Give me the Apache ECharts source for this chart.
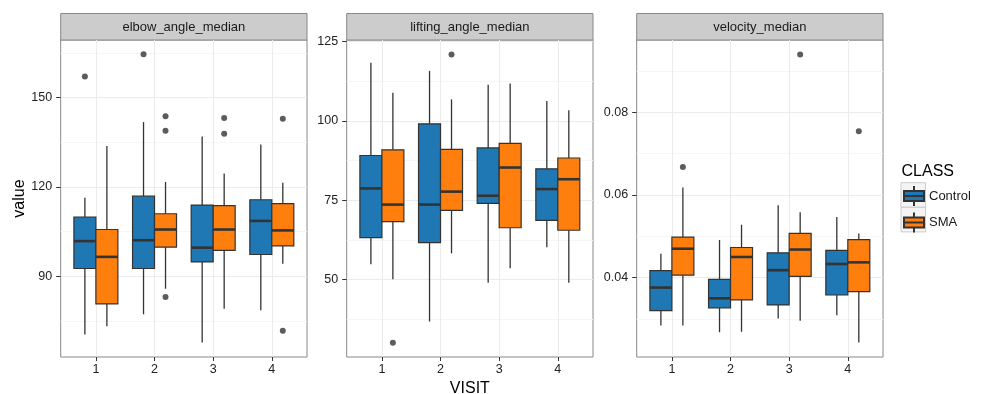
<!DOCTYPE html>
<html>
<head>
<meta charset="utf-8">
<script src="https://cdn.jsdelivr.net/npm/echarts@6/dist/echarts.min.js"></script>
<style>
  html, body { margin: 0; padding: 0; background: #fff; }
  #main { width: 985px; height: 394px; }
</style>
</head>
<body>
<div id="main"></div>
<script>
var FONT = '"Liberation Sans", Arial, sans-serif';

// visits (x categories) and facet names
var visits = [1, 2, 3, 4];
var panels = ['elbow_angle_median', 'lifting_angle_median', 'velocity_median'];
var classes = ['Control', 'SMA'];

// box stats per visit: [min, Q1, median, Q3, max]
var elbowControl = [[70.4, 92.6, 101.8, 109.9, 116.4], [77.2, 92.6, 102.1, 116.9, 141.8], [67.7, 94.8, 99.6, 113.9, 137.0], [78.6, 97.3, 108.6, 115.7, 134.3]];
var elbowSMA = [[73.2, 80.7, 96.5, 105.7, 133.8], [85.8, 99.8, 105.7, 111.0, 121.7], [79.1, 98.7, 105.7, 113.7, 124.5], [94.2, 100.2, 105.4, 114.4, 121.4]];
var liftControl = [[54.8, 63.2, 78.7, 89.1, 118.4], [36.7, 61.6, 73.6, 99.1, 115.8], [48.9, 74.0, 76.4, 91.5, 111.4], [60.1, 68.6, 78.5, 84.9, 106.3]];
var liftSMA = [[50.0, 68.2, 73.6, 90.9, 108.9], [58.2, 71.8, 77.7, 91.0, 106.8], [53.5, 66.3, 85.3, 92.9, 111.8], [48.9, 65.5, 81.6, 88.3, 103.4]];
var velControl = [[0.0284, 0.0320, 0.0376, 0.0417, 0.0458], [0.0268, 0.0327, 0.0350, 0.0396, 0.0491], [0.0301, 0.0334, 0.0418, 0.0460, 0.0575], [0.0309, 0.0358, 0.0433, 0.0466, 0.0547]];
var velSMA = [[0.0284, 0.0406, 0.0470, 0.0498, 0.0618], [0.0269, 0.0346, 0.0450, 0.0473, 0.0528], [0.0296, 0.0403, 0.0468, 0.0507, 0.0558], [0.0243, 0.0366, 0.0437, 0.0492, 0.0507]];

// outliers: [visit, value]
var elbowControlOut = [[1, 157.1], [2, 164.6]];
var elbowSMAOut = [[2, 143.8], [2, 138.9], [2, 83.0], [3, 143.2], [3, 137.9], [4, 142.9], [4, 71.7]];
var liftControlOut = [];
var liftSMAOut = [[1, 30.0], [2, 121.0]];
var velControlOut = [];
var velSMAOut = [[1, 0.0668], [3, 0.0940], [4, 0.0754]];

// y ticks (major / minor grid)
var elbowTicks = [90, 120, 150];
var elbowMinor = [75, 105, 135, 165];
var liftTicks = [50, 75, 100, 125];
var liftMinor = [37.5, 62.5, 87.5, 112.5];
var velTicks = [0.04, 0.06, 0.08];
var velMinor = [0.03, 0.05, 0.07, 0.09];

var yRanges = [[62.85, 169.4], [25.5, 125.55], [0.0208, 0.0975]];
var colors = ['#1f77b4', '#ff7f0e'];

var stats = [[elbowControl, elbowSMA], [liftControl, liftSMA], [velControl, velSMA]];
var outs = [[elbowControlOut, elbowSMAOut], [liftControlOut, liftSMAOut], [velControlOut, velSMAOut]];
var majors = [elbowTicks, liftTicks, velTicks];
var minors = [elbowMinor, liftMinor, velMinor];

// layout
var gridLeft = [60.7, 346.7, 636.7];
var gridW = 246.3;
var gridTop = 40;
var gridH = 317;
var dodge = 0.1875; // half of one box width (x units)

var myChart = echarts.init(document.getElementById('main'));

function renderBox(params, api) {
    var x = api.value(0);
    var xl = api.coord([x - dodge, api.value(3)])[0];
    var xr = api.coord([x + dodge, api.value(3)])[0];
    var pMin = api.coord([x, api.value(1)]);
    var pQ1 = api.coord([x, api.value(2)]);
    var pMed = api.coord([x, api.value(3)]);
    var pQ3 = api.coord([x, api.value(4)]);
    var pMax = api.coord([x, api.value(5)]);
    var dark = '#333333';
    return {
        type: 'group',
        children: [{
            type: 'line',
            shape: { x1: pMax[0], y1: pMax[1], x2: pQ3[0], y2: pQ3[1] },
            style: { stroke: dark, lineWidth: 1.3 }
        }, {
            type: 'line',
            shape: { x1: pQ1[0], y1: pQ1[1], x2: pMin[0], y2: pMin[1] },
            style: { stroke: dark, lineWidth: 1.3 }
        }, {
            type: 'rect',
            shape: { x: xl, y: pQ3[1], width: xr - xl, height: pQ1[1] - pQ3[1] },
            style: { fill: api.visual('color'), stroke: dark, lineWidth: 1.2 }
        }, {
            type: 'line',
            shape: { x1: xl, y1: pMed[1], x2: xr, y2: pMed[1] },
            style: { stroke: dark, lineWidth: 2.6 }
        }]
    };
}

var grids = [], xAxes = [], yAxes = [], series = [], graphics = [];

for (var p = 0; p < 3; p++) {
    grids.push({
        left: gridLeft[p], top: gridTop, width: gridW, height: gridH,
        outerBoundsMode: 'none',
        show: true, borderColor: '#888888', borderWidth: 1, backgroundColor: '#fff'
    });
    xAxes.push({
        type: 'value', gridIndex: p, min: 0.4, max: 4.6,
        name: p === 1 ? 'VISIT' : '',
        nameLocation: 'middle', nameGap: 21,
        nameTextStyle: { fontSize: 16, color: '#000', fontFamily: FONT },
        axisLine: { show: false },
        axisTick: { show: true, length: 4, customValues: visits, lineStyle: { color: '#333', width: 1 } },
        axisLabel: { customValues: visits, margin: 6, fontSize: 12.5, color: '#222', fontFamily: FONT },
        splitLine: { show: true, lineStyle: { color: '#ebebeb', width: 1 } }
    });
    (function (pi) {
        yAxes.push({
            type: 'value', gridIndex: pi, min: yRanges[pi][0], max: yRanges[pi][1], position: 'left',
            name: pi === 0 ? 'value' : '',
            nameLocation: 'middle', nameGap: 32, nameRotate: 90,
            nameTextStyle: { fontSize: 16, color: '#000', fontFamily: FONT },
            axisLine: { show: false },
            axisTick: { show: true, length: 4.5, customValues: majors[pi], lineStyle: { color: '#333', width: 1 } },
            axisLabel: {
                customValues: majors[pi], margin: 8.5, fontSize: 12.5, color: '#222', fontFamily: FONT,
                formatter: function (v) { return pi === 2 ? v.toFixed(2) : String(v); }
            },
            splitLine: { show: true, lineStyle: { color: '#ebebeb', width: 1 } }
        });
    })(p);
}
// minor grid lines
for (var p = 0; p < 3; p++) {
    yAxes.push({
        type: 'value', gridIndex: p, min: yRanges[p][0], max: yRanges[p][1], position: 'right',
        axisLine: { show: false },
        axisTick: { show: false, customValues: minors[p] },
        axisLabel: { show: false, customValues: minors[p] },
        splitLine: { show: true, lineStyle: { color: '#f6f6f6', width: 1 } }
    });
}

for (var p = 0; p < 3; p++) {
    for (var c = 0; c < 2; c++) {
        var off = c === 0 ? -dodge : dodge;
        var boxRows = stats[p][c].map(function (s, i) {
            return [visits[i] + off].concat(s);
        });
        series.push({
            type: 'custom',
            name: classes[c],
            xAxisIndex: p,
            yAxisIndex: p,
            itemStyle: { color: colors[c], borderColor: '#333', borderWidth: 1.2 },
            encode: { x: 0, y: [1, 2, 3, 4, 5] },
            renderItem: renderBox,
            data: boxRows,
            z: 3
        });
        var outRows = outs[p][c].map(function (o) {
            return [o[0] + off, o[1]];
        });
        series.push({
            type: 'scatter',
            name: classes[c] + ' outlier',
            xAxisIndex: p,
            yAxisIndex: p,
            symbolSize: 6,
            itemStyle: { color: '#333333' },
            data: outRows,
            z: 4
        });
    }
    // facet strip
    graphics.push({
        type: 'group',
        children: [{
            type: 'rect',
            shape: { x: gridLeft[p], y: 13.5, width: gridW, height: 26.5 },
            style: { fill: '#cccccc', stroke: '#888888', lineWidth: 1 }
        }, {
            type: 'text',
            x: gridLeft[p] + gridW / 2, y: 27,
            style: { text: panels[p], fill: '#1a1a1a', font: '13px ' + FONT, align: 'center', verticalAlign: 'middle' }
        }]
    });
}

// legend title and key backgrounds
graphics.push({
    type: 'text', x: 901.5, y: 172,
    style: { text: 'CLASS', fill: '#000', font: '16px ' + FONT, align: 'left', verticalAlign: 'middle' }
});
for (var k = 0; k < 2; k++) {
    graphics.push({
        type: 'rect', z: -1,
        shape: { x: 901, y: 182.7 + k * 24.6, width: 24.5, height: 24.6 },
        style: { fill: '#f4f4f4', stroke: '#cccccc', lineWidth: 1 }
    });
}

var option = {
    backgroundColor: '#ffffff',
    animation: false,
    textStyle: { fontFamily: FONT },
    grid: grids,
    xAxis: xAxes,
    yAxis: yAxes,
    legend: {
        data: classes,
        orient: 'vertical',
        left: 903, top: 185,
        padding: 0,
        itemWidth: 20, itemHeight: 20, itemGap: 4.6,
        icon: 'path://M10,0L10,5M0,5L20,5L20,15L0,15ZM0,10L20,10M10,15L10,20',
        selectedMode: false,
        textStyle: { fontSize: 13, color: '#1a1a1a', fontFamily: FONT }
    },
    graphic: graphics,
    series: series
};

myChart.setOption(option);
</script>
</body>
</html>
